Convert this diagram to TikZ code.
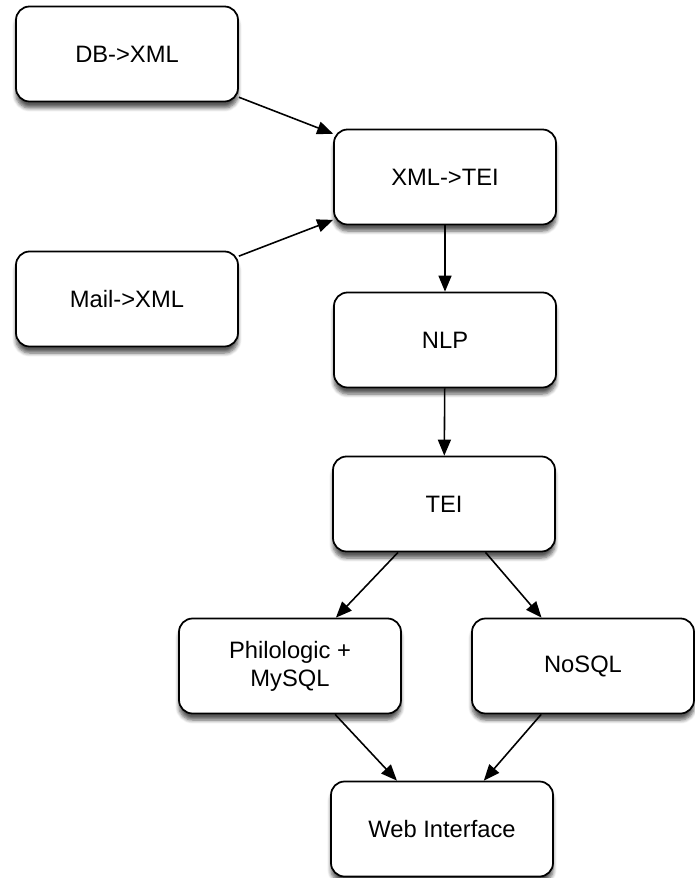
\documentclass[tikz,border=0pt]{standalone}
\usepackage{fontspec}
\setmainfont{Liberation Sans}
\usepackage{xcolor}
\usepackage{tikz}
\usetikzlibrary{arrows.meta,shadows.blur}

\begin{document}
\begin{tikzpicture}[
            box/.style={draw, line width=1pt, rounded corners=2.7mm, fill=white,
                        align=center, minimum width=4.44cm, minimum height=1.9cm,
                        font=\fontsize{13.5}{16}\selectfont,
                        blur shadow={shadow xshift=0pt, shadow yshift=-1.3mm,
                                     shadow blur steps=6, shadow opacity=65}},
            arr/.style={-{Triangle[length=3.2mm, width=2.6mm]}, line width=0.9pt}
        ]
            \useasboundingbox (0,0) rectangle (13.88,-17.56);

            \node[box] (dbxml)   at (2.54,-1.08)  {DB->XML};
            \node[box] (xmltei)  at (8.9,-3.54)   {XML->TEI};
            \node[box] (mailxml) at (2.54,-5.98)  {Mail->XML};
            \node[box] (nlp)     at (8.9,-6.8)    {NLP};
            \node[box] (tei)     at (8.88,-10.08) {TEI};

            \node[box] (philo)   at (5.8,-13.32)  {Philologic +\\MySQL};
            \node[box] (nosql)   at (11.66,-13.32) {NoSQL};
            \node[box] (web)     at (8.84,-16.58) {Web Interface};

            \draw[arr] (dbxml) -- (xmltei);
            \draw[arr] (mailxml) -- (xmltei);
            \draw[arr] (xmltei) -- (nlp);
            \draw[arr] (nlp) -- (tei);

            \draw[arr] (tei) -- (philo);
            \draw[arr] (tei) -- (nosql);
            \draw[arr] (philo) -- (web);
            \draw[arr] (nosql) -- (web);

        \end{tikzpicture}
\end{document}
